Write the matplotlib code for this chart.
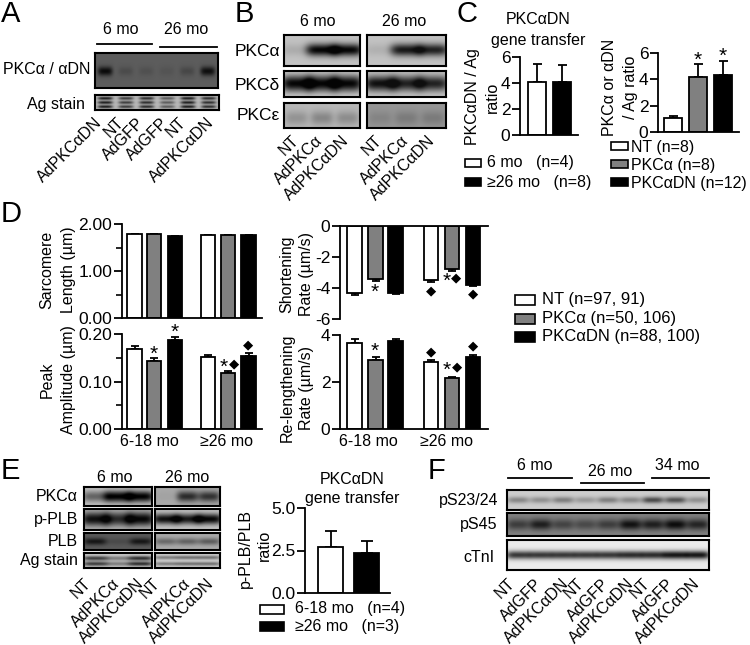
import numpy as np
import matplotlib
matplotlib.use('Agg')
import matplotlib.pyplot as plt
from matplotlib.patches import Rectangle

plt.rcParams['font.family'] = ['Liberation Sans', 'DejaVu Sans']
plt.rcParams['font.size'] = 11.5

W, H = 750, 645
GRAY = '#808080'

# bar values
c1_vals = [4.05, 4.1]
c1_errs = [1.45, 1.3]
c2_vals = [1.1, 4.2, 4.3]
c2_errs = [0.15, 0.95, 1.1]

sarc_vals = [1.78, 1.78, 1.74, 1.76, 1.77, 1.77]
sarc_errs = [0.005, 0.005, 0.008, 0.006, 0.005, 0.006]
peak_vals = [0.168, 0.144, 0.188, 0.151, 0.118, 0.153]
peak_errs = [0.007, 0.005, 0.005, 0.005, 0.004, 0.007]
short_vals = [-4.35, -3.4, -4.3, -3.5, -2.8, -3.8]
short_errs = [0.13, 0.13, 0.09, 0.13, 0.1, 0.09]
relen_vals = [3.67, 2.95, 3.73, 2.83, 2.15, 3.08]
relen_errs = [0.14, 0.1, 0.1, 0.1, 0.08, 0.08]

e_vals = [2.7, 2.35]
e_errs = [0.93, 0.7]

# blot band strengths per lane
a_main = [1.0, 0.2, 0.14, 0.1, 0.25, 0.95]
a_ag = [1.0, 0.8, 0.9, 0.6, 1.0, 0.9]
b_alpha_l = [0.12, 1.0, 1.0]
b_alpha_r = [0.1, 0.95, 0.9]
b_delta_l = [1.0, 1.0, 1.0]
b_delta_r = [1.0, 0.9, 0.9]
b_eps_l = [0.3, 0.4, 0.35]
b_eps_r = [0.2, 0.3, 0.3]
e_alpha_l = [0.5, 1.0, 1.0]
e_alpha_r = [0.05, 0.85, 0.8]
e_plb_p_l = [0.95, 0.8, 1.0]
e_plb_p_r = [0.95, 0.9, 1.0]
e_plb_l = [0.85, 0.2, 0.85]
e_plb_r = [0.5, 0.55, 0.6]
e_ag_l = [0.9, 0.5, 1.0]
e_ag_r = [0.6, 0.7, 0.7]
f_s23 = [0.4, 0.35, 0.45, 0.3, 0.45, 0.4, 0.75, 0.7, 0.35]
f_s45 = [0.55, 0.8, 0.5, 0.45, 0.55, 0.9, 0.8, 0.95, 0.75]
f_ctni = [0.8, 0.8, 0.8, 0.8, 0.8, 0.85, 0.85, 0.95, 0.95]

fig = plt.figure(figsize=(W / 100, H / 100), dpi=100)


def ax_px(x0, y0, x1, y1):
    return fig.add_axes([x0 / W, 1 - y1 / H, (x1 - x0) / W, (y1 - y0) / H])


def t(x, y, s, ha='center', va='center', **kw):
    return fig.text(x / W, 1 - y / H, s, ha=ha, va=va, **kw)


def line(x0, x1, y, lw=1.3):
    fig.add_artist(plt.Line2D([x0 / W, x1 / W], [1 - y / H, 1 - y / H], color='black', lw=lw))


def swatch(x0, x1, y0, y1, color):
    fig.add_artist(Rectangle((x0 / W, 1 - y1 / H), (x1 - x0) / W, (y1 - y0) / H,
                             transform=fig.transFigure, fc=color, ec='black', lw=1.2))


def slanted(xs, y, labels):
    for x, s in zip(xs, labels):
        t(x, y, s, ha='right', va='top', rotation=45)


def blot(box, levels, bg=190, dark=20, rows=(0.5,), bh=0.16, bw=0.36, frame=1.5):
    x0, y0, x1, y1 = box
    nx, ny = (x1 - x0) * 2, (y1 - y0) * 2
    xx = (np.arange(nx) + 0.5) / nx * len(levels)
    yy = (np.arange(ny) + 0.5) / ny
    img = np.zeros((ny, nx))
    for i, lev in enumerate(levels):
        hor = np.exp(-(np.abs(xx - i - 0.5) / bw) ** 4)
        for r in rows:
            img += lev * np.outer(np.exp(-((yy - r) / bh) ** 2), hor)
    img = bg + (dark - bg) * np.clip(img, 0, 1)
    ax = ax_px(x0, y0, x1, y1)
    ax.imshow(img, cmap='gray', vmin=0, vmax=255, aspect='auto', interpolation='bilinear')
    ax.set_xticks([])
    ax.set_yticks([])
    for sp in ax.spines.values():
        sp.set_linewidth(frame)


def bars(box, px, width, vals, errs, colors, ylim, ticks, labels, minor=None, top=False):
    x0, y0, x1, y1 = box
    ax = ax_px(x0, y0, x1, y1)
    ax.patch.set_alpha(0)
    ax.set_xlim(x0, x1)
    ax.set_ylim(*ylim)
    ax.bar(px, vals, width=width, color=colors, edgecolor='black', lw=1.3, zorder=2)
    for x, v, e in zip(px, vals, errs):
        d = ([0], [e]) if v > 0 else ([e], [0])
        ax.errorbar(x, v, yerr=d, color='black', lw=1.3, capsize=width * 0.18, capthick=1.3, zorder=1)
    ax.spines['right'].set_visible(False)
    ax.spines['top' if not top else 'bottom'].set_visible(False)
    ax.spines['left'].set_linewidth(1.3)
    ax.spines['top' if top else 'bottom'].set_linewidth(1.3)
    ax.set_xticks([])
    ax.set_yticks(ticks)
    ax.set_yticklabels(labels, fontsize=12.5)
    ax.tick_params(axis='y', length=6, width=1.3, pad=1)
    if minor is not None:
        ax.set_yticks(minor, minor=True)
        ax.tick_params(axis='y', which='minor', length=4, width=1.2)
    return ax


# panel letters
for x, y, s in [(1, 14, 'A'), (235, 14, 'B'), (456, 14, 'C'), (1, 214, 'D'), (1, 471, 'E'), (428, 471, 'F')]:
    t(x, y, s, ha='left', fontsize=21)

# A
t(121, 30, '6 mo')
t(186, 30, '26 mo')
line(97, 152, 44)
line(160, 217, 47)
blot((95, 53, 218, 88), a_main, bg=92, dark=10, rows=(0.52,), bh=0.13)
blot((95, 95, 219, 110), a_ag, bg=185, dark=25, rows=(0.22, 0.5, 0.78), bh=0.1)
t(90, 70, 'PKCα / αDN', ha='right')
t(85, 104, 'Ag stain', ha='right')
slanted([105, 127, 147, 171, 189, 217], 115, ['AdPKCαDN', 'NT', 'AdGFP', 'AdGFP', 'NT', 'AdPKCαDN'])

# B
t(318, 22, '6 mo')
t(404, 22, '26 mo')
blot((284, 35, 360, 66), b_alpha_l, bg=195, dark=5, rows=(0.48,), bh=0.2, bw=0.62)
blot((367, 35, 446, 66), b_alpha_r, bg=195, dark=15, rows=(0.48,), bh=0.2, bw=0.6)
blot((284, 71, 360, 97), b_delta_l, bg=215, dark=5, rows=(0.48,), bh=0.32, bw=0.62)
blot((367, 71, 446, 97), b_delta_r, bg=205, dark=15, rows=(0.48,), bh=0.3, bw=0.62)
blot((284, 103, 360, 128), b_eps_l, bg=185, dark=60, rows=(0.6,), bh=0.28, bw=0.45)
blot((367, 103, 446, 128), b_eps_r, bg=150, dark=60, rows=(0.6,), bh=0.28, bw=0.45)
t(280, 52, 'PKCα', ha='right', fontsize=12.5)
t(280, 85, 'PKCδ', ha='right', fontsize=12.5)
t(280, 115, 'PKCε', ha='right', fontsize=12.5)
slanted([302, 325, 352, 385, 411, 438], 133, ['NT', 'AdPKCα', 'AdPKCαDN'] * 2)

# C
t(538, 20, 'PKCαDN')
t(538, 40, 'gene transfer')
bars((520, 57, 578, 135), [537, 562], 18, c1_vals, c1_errs, ['white', 'black'], (0, 6), [0, 2, 4, 6], ['0', '2', '4', '6'])
t(472, 97, 'PKCαDN / Ag', rotation=90)
t(492, 97, 'ratio', rotation=90)
swatch(465, 481, 159, 167, 'white')
swatch(465, 481, 178, 186, 'black')
t(487, 163, '6 mo   (n=4)', ha='left')
t(487, 183, '≥26 mo   (n=8)', ha='left')

bars((658, 53, 739, 132), [673, 698, 722.5], 18, c2_vals, c2_errs, ['white', GRAY, 'black'], (0, 6), [0, 2, 4, 6], ['0', '2', '4', '6'])
t(610, 87, 'PKCα or αDN', rotation=90)
t(630, 87, '/ Ag ratio', rotation=90)
t(698, 60, '*', fontsize=15)
t(722.5, 56, '*', fontsize=15)
for y, col, s in [(146, 'white', 'NT (n=8)'), (164, GRAY, 'PKCα (n=8)'), (182, 'black', 'PKCαDN (n=12)')]:
    swatch(611, 628, y - 4, y + 4, col)
    t(631, y + 1.5, s, ha='left')

# D
d_left = [134.5, 154, 175, 208, 228, 248.5]
d_right = [354.5, 375.5, 395.5, 431, 452, 473]
d_cols = ['white', GRAY, 'black'] * 2
bars((122, 224, 262, 318), d_left, 14.5, sarc_vals, sarc_errs, d_cols, (0, 2), [0, 1, 2],
     ['0.00', '1.00', '2.00'], minor=[0.5, 1.5])
bars((122, 334, 262, 429), d_left, 14.5, peak_vals, peak_errs, d_cols, (0, 0.2), [0, 0.1, 0.2],
     ['0.00', '0.10', '0.20'], minor=[0.05, 0.15])
bars((340, 226, 488, 319), d_right, 14.5, short_vals, short_errs, d_cols, (-6, 0), [-6, -4, -2, 0],
     ['-6', '-4', '-2', '0'], top=True)
bars((340, 335, 488, 429), d_right, 14.5, relen_vals, relen_errs, d_cols, (0, 4), [0, 2, 4], ['0', '2', '4'])
t(47, 270, 'Sarcomere', rotation=90)
t(68, 270, 'Length (µm)', rotation=90)
t(47, 380, 'Peak', rotation=90)
t(68, 380, 'Amplitude (µm)', rotation=90)
t(287, 274, 'Shortening', rotation=90)
t(306, 274, 'Rate (µm/s)', rotation=90)
t(287, 388, 'Re-lengthening', rotation=90)
t(306, 388, 'Rate (µm/s)', rotation=90)
for x, s in [(149, '6-18 mo'), (227, '≥26 mo'), (368, '6-18 mo'), (446, '≥26 mo')]:
    t(x, 442, s)
for x, y in [(154, 354), (175, 332), (224, 367), (375, 292), (447, 281), (375, 351), (447, 370)]:
    t(x, y, '*', fontsize=15)
for x, y in [(234, 364), (248.5, 345), (456, 278), (431, 291), (473, 294), (431, 352), (457, 367), (473, 346)]:
    t(x, y, '◆', fontsize=9.5, family=['DejaVu Sans'])
for y, col, s in [(300, 'white', 'NT (n=97, 91)'), (319, GRAY, 'PKCα (n=50, 106)'), (337, 'black', 'PKCαDN (n=88, 100)')]:
    swatch(515, 535, y - 5, y + 5, col)
    t(542, y, s, ha='left', fontsize=12)

# E
t(115, 478, '6 mo')
t(187, 478, '26 mo')
e_rows = [(487, 506), (509, 530), (533, 550), (553, 568)]
blot((84, 487, 152, 506), e_alpha_l, bg=200, dark=0, bh=0.3, bw=0.6)
blot((155, 487, 220, 506), e_alpha_r, bg=170, dark=20, bh=0.28, bw=0.5)
blot((84, 509, 152, 530), e_plb_p_l, bg=190, dark=5, bh=0.32, bw=0.62)
blot((155, 509, 220, 530), e_plb_p_r, bg=200, dark=5, bh=0.24, bw=0.62)
blot((84, 533, 152, 550), e_plb_l, bg=90, dark=10, bh=0.2, bw=0.5)
blot((155, 533, 220, 550), e_plb_r, bg=170, dark=40, bh=0.2, bw=0.5)
blot((84, 553, 152, 568), e_ag_l, bg=205, dark=45, rows=(0.35, 0.72), bh=0.15, bw=0.55)
blot((155, 553, 220, 568), e_ag_r, bg=210, dark=70, rows=(0.3, 0.72), bh=0.13, bw=0.55)
for (y0, y1), s in zip(e_rows, ['PKCα', 'p-PLB', 'PLB', 'Ag stain']):
    t(78, (y0 + y1) / 2, s, ha='right')
slanted([94, 122, 147, 163, 193, 217], 576, ['NT', 'AdPKCα', 'AdPKCαDN'] * 2)

t(352, 479, 'PKCαDN')
t(352, 498, 'gene transfer')
bars((305, 508, 390, 593), [330.5, 366.5], 25, e_vals, e_errs, ['white', 'black'], (0, 5), [0, 2.5, 5], ['0.0', '2.5', '5.0'])
t(245, 548, 'p-PLB/PLB', rotation=90)
t(264, 545, 'ratio', rotation=90)
swatch(260, 284, 605, 614, 'white')
swatch(260, 284, 622, 631, 'black')
t(295, 609, '6-18 mo   (n=4)', ha='left')
t(295, 627, '≥26 mo   (n=3)', ha='left')

# F
t(535, 466, '6 mo')
t(610, 472, '26 mo')
t(677, 466, '34 mo')
line(508, 572, 478)
line(581, 644, 483)
line(652, 709, 478)
blot((507, 490, 709, 510), f_s23, bg=205, dark=30, bh=0.16, bw=0.48)
blot((507, 513, 709, 536), f_s45, bg=130, dark=5, bh=0.24, bw=0.5)
blot((507, 540, 709, 570), f_ctni, bg=235, dark=10, rows=(0.5,), bh=0.14, bw=0.55)
t(498, 501, 'pS23/24', ha='right')
t(497, 525, 'pS45', ha='right')
t(495, 557, 'cTnI', ha='right')
slanted([518, 545, 572, 587, 612, 637, 653, 677, 703], 576, ['NT', 'AdGFP', 'AdPKCαDN'] * 3)

fig.savefig('out.png', dpi=100)
